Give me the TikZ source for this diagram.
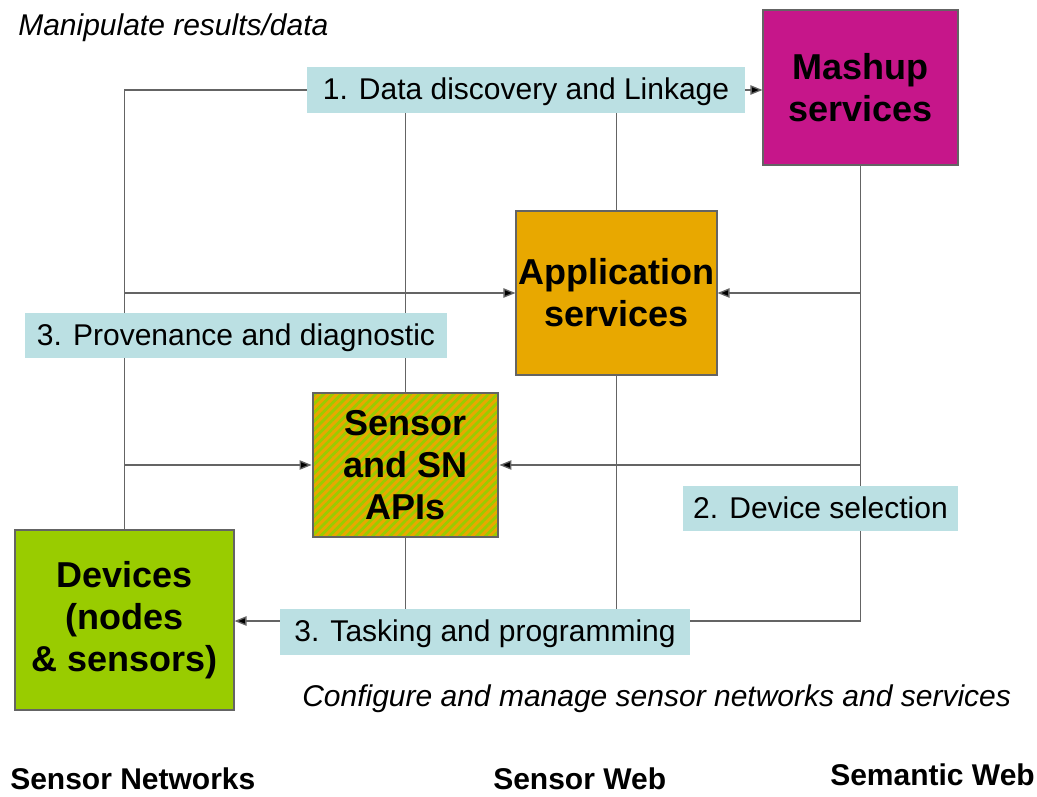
\documentclass[tikz,border=0pt]{standalone}
\usepackage{fontspec}
\setmainfont{Liberation Sans}
\usetikzlibrary{arrows.meta,patterns.meta,backgrounds}
\definecolor{lblue}{RGB}{187,224,227}
\definecolor{mag}{RGB}{198,22,138}
\definecolor{orng}{RGB}{232,168,0}
\definecolor{grn}{RGB}{153,204,0}
\definecolor{lncol}{RGB}{100,100,100}
\begin{document}
\begin{tikzpicture}[x=0.75pt,y=-0.75pt,
  bigbox/.style={draw=lncol,line width=0.8pt,align=center,inner sep=0pt,
    font=\bfseries\fontsize{27}{31.5}\selectfont},
  lbl/.style={fill=lblue,inner sep=0pt,text height=16pt,text depth=1.5pt,font=\fontsize{22.5}{27}\selectfont},
  note/.style={inner sep=0pt,font=\itshape\fontsize{22.5}{27}\selectfont},
  head/.style={inner sep=0pt,font=\bfseries\fontsize{22.5}{27}\selectfont},
  conn/.style={draw=lncol,line width=1pt},
  arr/.style={conn,-{Triangle[length=9pt,width=7pt,fill=black]}}]
\useasboundingbox (0,0) rectangle (1037,796);
% boxes
\node[bigbox,fill=mag,minimum width=195*0.75pt,minimum height=155*0.75pt] (mashup) at (860.5,87.5) {Mashup\\services};
\node[bigbox,fill=orng,minimum width=201*0.75pt,minimum height=164*0.75pt] (app) at (616.5,293) {Application\\services};
\node[bigbox,preaction={fill=orng},pattern={Lines[angle=45,distance=4.6pt,line width=2.1pt]},pattern color=grn,minimum width=185*0.75pt,minimum height=144*0.75pt] (sensor) at (405.5,465) {Sensor\\and SN\\APIs};
\node[bigbox,fill=grn,minimum width=219*0.75pt,minimum height=180*0.75pt] (devices) at (124.5,620) {Devices\\(nodes\\\&~sensors)};
% labels
\node[lbl,minimum width=438*0.75pt,minimum height=46*0.75pt] (lab1) at (526,90) {1. Data discovery and Linkage};
\node[lbl,minimum width=422*0.75pt,minimum height=45*0.75pt] (lab3p) at (236,335.5) {3. Provenance and diagnostic};
\node[lbl,minimum width=275*0.75pt,minimum height=45*0.75pt] (lab2) at (820.5,508.5) {2. Device selection};
\node[lbl,minimum width=410*0.75pt,minimum height=46*0.75pt] (lab3t) at (485,632) {3. Tasking and programming};
% texts
\node[note,anchor=base west] (manip) at (18,35) {Manipulate results/data};
\node[note,anchor=base west] (config) at (302,706) {Configure and manage sensor networks and services};
\node[head,anchor=base west] (sn) at (10,789) {Sensor Networks};
\node[head,anchor=base west] (sw) at (493,789) {Sensor Web};
\node[head,anchor=base west] (smw) at (830,785) {Semantic Web};
\coordinate (T) at (0,621);
\begin{scope}[on background layer]
\draw[conn] (devices.north) -- (devices.north |- lab1.west) -- (lab1.west);
\draw[arr] (lab1.east) -- (mashup.west |- lab1.east);
\draw[conn] (sensor.north |- lab1.south) -- (sensor.north);
\draw[conn] (app.north |- lab1.south) -- (app.north);
\draw[arr] (devices.north |- app.west) -- (app.west);
\draw[arr] (mashup.south |- app.east) -- (app.east);
\draw[arr] (devices.north |- sensor.west) -- (sensor.west);
\draw[arr] (mashup.south |- sensor.east) -- (sensor.east);
\draw[conn] (sensor.south) -- (sensor.south |- lab3t.north);
\draw[conn] (app.south) -- (app.south |- lab3t.north);
\draw[conn] (mashup.south) -- (mashup.south |- T) -- (lab3t.east |- T);
\draw[arr] (lab3t.west |- T) -- (devices.east |- T);
\end{scope}
\end{tikzpicture}
\end{document}
